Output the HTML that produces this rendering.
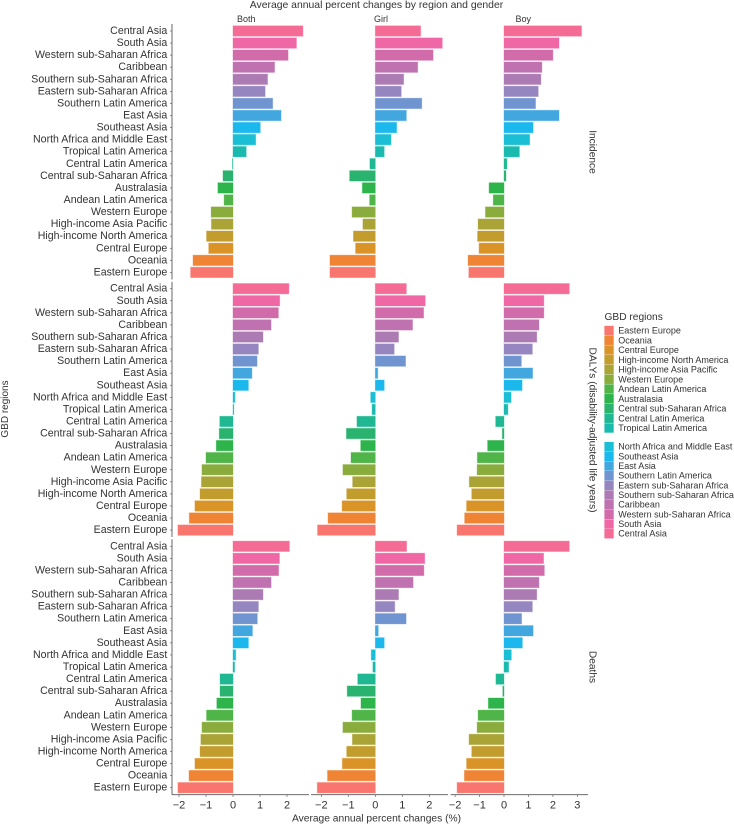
<!DOCTYPE html>
<html lang="en">
<head>
<meta charset="utf-8">
<title>Average annual percent changes by region and gender</title>
<style>
html,body{margin:0;padding:0;background:#fff;width:734px;height:825px;overflow:hidden}
svg{display:block}
text{font-family:"Liberation Sans",sans-serif;fill:#333}
</style>
</head>
<body>
<svg id="chart" xmlns="http://www.w3.org/2000/svg" width="734" height="825" viewBox="0 0 734 825">
  <text x="376.500" y="8" text-anchor="middle" font-size="10.400">Average annual percent changes by region and gender</text>
  <text x="376.500" y="821.500" text-anchor="middle" font-size="10.250">Average annual percent changes (%)</text>
  <text transform="translate(8,409) rotate(-90)" text-anchor="middle" font-size="10">GBD regions</text>
  <text x="604.500" y="320" font-size="10.200">GBD regions</text>
</svg>
<script>
const regions = ["Central Asia","South Asia","Western sub-Saharan Africa","Caribbean","Southern sub-Saharan Africa","Eastern sub-Saharan Africa","Southern Latin America","East Asia","Southeast Asia","North Africa and Middle East","Tropical Latin America","Central Latin America","Central sub-Saharan Africa","Australasia","Andean Latin America","Western Europe","High-income Asia Pacific","High-income North America","Central Europe","Oceania","Eastern Europe"];
const regionColors = ["#F46C96","#F067A6","#D16BA9","#BF72AF","#AC7BB3","#9686C0","#6F94CF","#42A7DF","#1AB8EC","#1ABED5","#1ABBAE","#1FB892","#2AB36F","#2DB44A","#4FB548","#8AAC3D","#AAA436","#C29C2C","#DA9327","#EE8434","#F8766D"];

const genders = ["Both","Girl","Boy"];
const measures = ["Incidence","DALYs (disability-adjusted life years)","Deaths"];

const incidenceBoth = [2.59,2.35,2.04,1.54,1.28,1.19,1.47,1.78,1.01,0.84,0.49,-0.02,-0.37,-0.56,-0.33,-0.81,-0.80,-0.98,-0.90,-1.48,-1.57];
const incidenceGirl = [1.68,2.48,2.14,1.57,1.05,0.96,1.72,1.15,0.79,0.58,0.33,-0.20,-0.95,-0.48,-0.21,-0.86,-0.46,-0.81,-0.73,-1.68,-1.68];
const incidenceBoy = [3.17,2.25,2.00,1.55,1.51,1.40,1.29,2.25,1.19,1.05,0.63,0.12,0.08,-0.61,-0.44,-0.76,-1.06,-1.08,-1.02,-1.47,-1.44];
const dalysBoth = [2.07,1.73,1.68,1.41,1.11,0.94,0.89,0.70,0.57,0.07,0.03,-0.49,-0.51,-0.62,-1.00,-1.15,-1.17,-1.22,-1.41,-1.62,-2.04];
const dalysGirl = [1.15,1.85,1.79,1.38,0.86,0.70,1.12,0.09,0.33,-0.17,-0.12,-0.68,-1.07,-0.54,-0.90,-1.20,-0.84,-1.06,-1.23,-1.75,-2.14];
const dalysBoy = [2.67,1.63,1.63,1.43,1.34,1.16,0.71,1.17,0.74,0.29,0.16,-0.34,-0.07,-0.67,-1.09,-1.10,-1.42,-1.32,-1.53,-1.61,-1.92];
const deathsBoth = [2.09,1.72,1.69,1.41,1.11,0.94,0.90,0.72,0.57,0.10,0.06,-0.48,-0.48,-0.60,-0.98,-1.15,-1.19,-1.22,-1.41,-1.63,-2.04];
const deathsGirl = [1.16,1.83,1.80,1.40,0.86,0.72,1.14,0.11,0.33,-0.15,-0.09,-0.65,-1.04,-0.53,-0.86,-1.20,-0.85,-1.06,-1.22,-1.77,-2.15];
const deathsBoy = [2.67,1.62,1.65,1.43,1.34,1.16,0.72,1.19,0.75,0.30,0.19,-0.33,-0.05,-0.64,-1.06,-1.10,-1.43,-1.32,-1.53,-1.62,-1.92];

const ticksBoth = [-2,-1,0,1,2];
const ticksGirl = [-2,-1,0,1,2];
const ticksBoy = [-2,-1,0,1,2,3];

const legendGroupA = ["Eastern Europe","Oceania","Central Europe","High-income North America","High-income Asia Pacific","Western Europe","Andean Latin America","Australasia","Central sub-Saharan Africa","Central Latin America","Tropical Latin America"];
const legendGroupB = ["North Africa and Middle East","Southeast Asia","East Asia","Southern Latin America","Eastern sub-Saharan Africa","Southern sub-Saharan Africa","Caribbean","Western sub-Saharan Africa","South Asia","Central Asia"];

const seriesGrid = [
  [incidenceBoth, incidenceGirl, incidenceBoy],
  [dalysBoth, dalysGirl, dalysBoy],
  [deathsBoth, deathsGirl, deathsBoy]
];
const tickGrid = [ticksBoth, ticksGirl, ticksBoy];

const svg = document.getElementById('chart');
const NS = 'http://www.w3.org/2000/svg';

function make(tag, attrs, text) {
  const el = document.createElementNS(NS, tag);
  for (const k in attrs) el.setAttribute(k, attrs[k]);
  if (text !== undefined) el.textContent = text;
  svg.appendChild(el);
  return el;
}
function slug(s) {
  return s.toLowerCase().replace(/[^a-z0-9]+/g, '-').replace(/^-|-$/g, '');
}
function colorOf(name) {
  return regionColors[regions.indexOf(name)];
}

/* x axis layouts: zero pixel and pixels-per-unit for each gender column */
const xLayouts = [
  { zero: 233, unit: 27, left: 172, right: 309, strip: 237 },
  { zero: 375.3, unit: 27, left: 311, right: 448, strip: 374 },
  { zero: 504, unit: 24.45, left: 450.7, right: 588, strip: 515.5 }
];
/* y axis layouts for each measure row */
const yLayouts = [
  { first: 31, top: 24, bottom: 279.5, labelY: 152 },
  { first: 288.7, top: 281.7, bottom: 537, labelY: 430 },
  { first: 546.3, top: 539.2, bottom: 794.7, labelY: 667 }
];
const bandStep = 12.07;

function xScale(col, v) {
  return xLayouts[col].zero + v * xLayouts[col].unit;
}
function yScale(row, i) {
  return yLayouts[row].first + i * bandStep;
}

/* bars */
seriesGrid.forEach(function (rowSeries, r) {
  rowSeries.forEach(function (values, c) {
    values.forEach(function (v, i) {
      const x0 = xScale(c, 0);
      const x1 = xScale(c, v);
      const bar = make('rect', {
        x: Math.min(x0, x1).toFixed(2),
        y: (yScale(r, i) - 5.2).toFixed(2),
        width: Math.abs(x1 - x0).toFixed(2),
        height: 10.4,
        fill: regionColors[i],
        stroke: regionColors[i],
        'stroke-opacity': 0.4,
        'stroke-width': 0.9
      });
      
      
    });
  });
});

/* y axes */
yLayouts.forEach(function (layout, r) {
  const axis = make('line', { x1: 172, x2: 172, y1: layout.top, y2: layout.bottom, stroke: '#555', 'stroke-width': 0.9 });
  
  
  regions.forEach(function (name, i) {
    const y = yScale(r, i);
    const tick = make('line', { x1: 170, x2: 172, y1: y, y2: y, stroke: '#666', 'stroke-width': 0.7 });
    
    
    const label = make('text', { x: 167.3, y: y + 3, 'text-anchor': 'end', 'font-size': 10.6, fill: '#3d3d3d' }, name);
    
    
  });
  const strip = make('text', { transform: 'translate(589.500,' + layout.labelY + ') rotate(90)', 'text-anchor': 'middle', 'font-size': 10.2 }, measures[r]);
  
  
});

/* x axes and column headers */
xLayouts.forEach(function (layout, c) {
  const axis = make('line', { x1: layout.left, x2: layout.right, y1: 794.7, y2: 794.7, stroke: '#555', 'stroke-width': 0.9 });
  
  
  tickGrid[c].forEach(function (t) {
    const x = xScale(c, t);
    const tick = make('line', { x1: x, x2: x, y1: 794.7, y2: 797, stroke: '#666', 'stroke-width': 0.7 });
    
    
    const label = make('text', { x: x, y: 808.5, 'text-anchor': 'middle', 'font-size': 11, fill: '#444' }, String(t).replace('-', '\u2212'));
    
    
  });
  const head = make('text', { x: layout.strip, y: 22, 'font-size': 9, fill: '#333' }, genders[c]);
  
  
});

/* legend */
function drawLegend(names, startY, step) {
  names.forEach(function (name, i) {
    const y = startY + i * step;
    const swatch = make('rect', { x: 604.4, y: (y - 4.7).toFixed(2), width: 9.3, height: 9.4, fill: colorOf(name) });
    
    
    const label = make('text', { x: 618.3, y: (y + 3).toFixed(2), 'font-size': 9, fill: '#333' }, name);
    
    
  });
}
drawLegend(legendGroupA, 330.5, 9.75);
drawLegend(legendGroupB, 446.7, 9.67);
</script>
</body>
</html>
